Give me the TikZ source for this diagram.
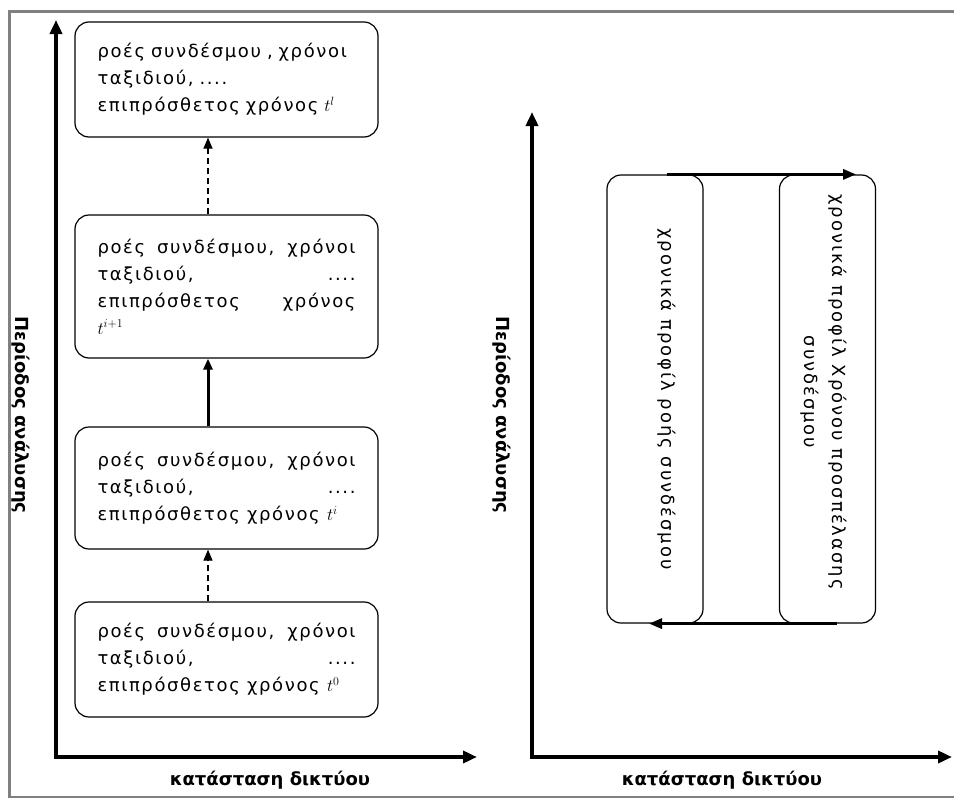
\documentclass[tikz,border=0pt]{standalone}
\usepackage{fontspec}
\setmainfont{DejaVu Sans}
\newfontfamily\boxfont[LetterSpace=9]{DejaVu Sans}
\newfontfamily\proffont[LetterSpace=11]{DejaVu Sans}
\usetikzlibrary{arrows.meta}
\begin{document}
\begin{tikzpicture}[x=1pt,y=-1pt,
  stagebox/.style={draw,line width=1.2pt,rounded corners=14pt,minimum width=303pt,
    text width=258pt,inner xsep=0pt,font=\boxfont\fontsize{18}{27}\selectfont},
  profbox/.style={draw,line width=1.2pt,rounded corners=14pt,minimum width=96pt,
    minimum height=448pt},
  proftext/.style={rotate=-90,align=center,font=\proffont\fontsize{18}{28}\selectfont},
  axis/.style={line width=3.5pt,{Triangle[length=14pt,width=12pt]}-{Triangle[length=14pt,width=12pt]}},
  axislabel/.style={font=\bfseries\fontsize{18}{20}\selectfont},
  step solid/.style={line width=3pt,-{Triangle[length=11pt,width=9pt]}},
  step dashed/.style={line width=1.2pt,dash pattern=on 6pt off 4pt,-{Triangle[length=11pt,width=9pt]}},
  flowarrow/.style={line width=3pt,-{Triangle[length=13pt,width=10pt]}}]
\useasboundingbox (0,0) rectangle (954,798);
% frame
\draw[line width=3pt,gray] (954,11) -- (9,11) -- (9,797) -- (954,797);

% left panel axes
\coordinate (oA) at (56,757);
\coordinate (yA) at (56,20);
\coordinate (xA) at (477,757);
\draw[axis] (yA) -- (oA) -- (xA);
\node[axislabel] (xlabA) at (270,780) {κατάσταση δικτύου};
\node[axislabel,rotate=-90] (ylabA) at (21,415) {Περίοδος ανάλυσης};

% iteration boxes
\node[stagebox,minimum height=115pt,align=left] (b1) at (226.5,79.5)
  {ροές συνδέσμου , χρόνοι\\ταξιδιού, ....\\επιπρόσθετος χρόνος $t^{l}$};
\node[stagebox,minimum height=143pt,align=justify] (b2) at (226.5,286.5)
  {ροές συνδέσμου, χρόνοι\linebreak ταξιδιού, \hfill ....\linebreak επιπρόσθετος χρόνος\linebreak $t^{i+1}$};
\node[stagebox,minimum height=122pt,align=justify] (b3) at (226.5,488)
  {ροές συνδέσμου, χρόνοι\linebreak ταξιδιού, \hfill ....\linebreak επιπρόσθετος χρόνος $t^{i}$};
\node[stagebox,minimum height=115pt,align=justify] (b4) at (226.5,659.5)
  {ροές συνδέσμου, χρόνοι\linebreak ταξιδιού, \hfill ....\linebreak επιπρόσθετος χρόνος $t^{0}$};

\draw[step dashed] ([xshift=-18.5pt]b4.north) -- ([xshift=-18.5pt]b3.south);
\draw[step solid] ([xshift=-18.5pt]b3.north) -- ([xshift=-18.5pt]b2.south);
\draw[step dashed] ([xshift=-18.5pt]b2.north) -- ([xshift=-18.5pt]b1.south);

% right panel axes
\coordinate (oB) at (532,757);
\coordinate (yB) at (532,112);
\coordinate (xB) at (952,757);
\draw[axis] (yB) -- (oB) -- (xB);
\node[axislabel] (xlabB) at (722,780) {κατάσταση δικτύου};
\node[axislabel,rotate=-90] (ylabB) at (502,415) {Περίοδος ανάλυσης};

% profile boxes
\node[profbox] (pf) at (655,399) {};
\node[profbox] (pt) at (827.5,399) {};
\node[proftext] (pftext) at (667,399) {χρονικά προφίλ ροής συνδέσμου};
\node[proftext] (pttext) at (824,392) {χρονικά προφίλ Χρόνου προσπέλασης\\συνδέσμου};

\draw[flowarrow] ([xshift=12pt]pf.north) -- ([xshift=-20pt]pt.north east);
\draw[flowarrow] ([xshift=9.5pt]pt.south) -- ([xshift=-6pt]pf.south);
\end{tikzpicture}
\end{document}
